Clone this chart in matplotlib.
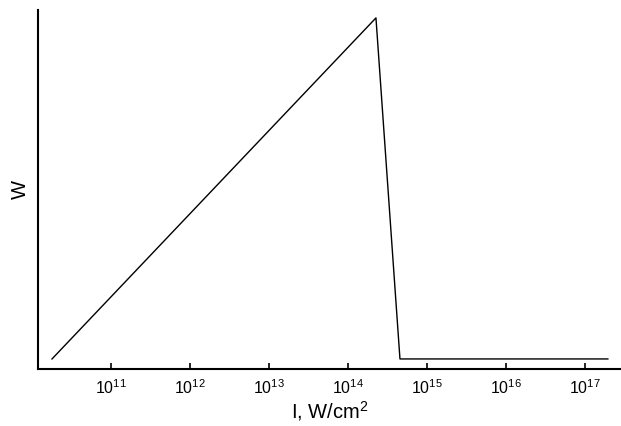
import matplotlib
matplotlib.use("Agg")
import matplotlib.pyplot as plt
from matplotlib.ticker import NullLocator, FixedLocator, FixedFormatter

plt.rcParams['font.family'] = ['Liberation Sans', 'DejaVu Sans']
plt.rcParams['mathtext.fontset'] = 'custom'
plt.rcParams['mathtext.rm'] = 'Liberation Sans'

intensity = [1.79e10, 2.26e14, 4.55e14, 1.95e17]
w_values = [0.028, 0.978, 0.028, 0.028]
tick_values = [1e11, 1e12, 1e13, 1e14, 1e15, 1e16, 1e17]
tick_labels = [r'$10^{11}$', r'$10^{12}$', r'$10^{13}$', r'$10^{14}$', r'$10^{15}$', r'$10^{16}$', r'$10^{17}$']

fig = plt.figure(figsize=(6.21, 4.26), dpi=100)
ax = fig.add_axes([38/621, 57/426, 583/621, 359/426])
ax.plot(intensity, w_values, color='black', lw=1.0)
ax.set_xscale('log')
ax.set_xlim(1.19e10, 2.86e17)
ax.set_ylim(0, 1)
ax.xaxis.set_major_locator(FixedLocator(tick_values))
ax.xaxis.set_major_formatter(FixedFormatter(tick_labels))
ax.xaxis.set_minor_locator(NullLocator())
ax.yaxis.set_major_locator(NullLocator())
ax.tick_params(axis='x', direction='in', length=4, width=1.2, labelsize=11.5, pad=7)
for s in ['top', 'right']:
    ax.spines[s].set_visible(False)
for s in ['left', 'bottom']:
    ax.spines[s].set_linewidth(1.5)
ax.set_xlabel('I, W/cm$^2$', fontsize=14.5, labelpad=1)
ax.set_ylabel('W', fontsize=14.5, labelpad=6)
fig.savefig('out.png', dpi=100)
